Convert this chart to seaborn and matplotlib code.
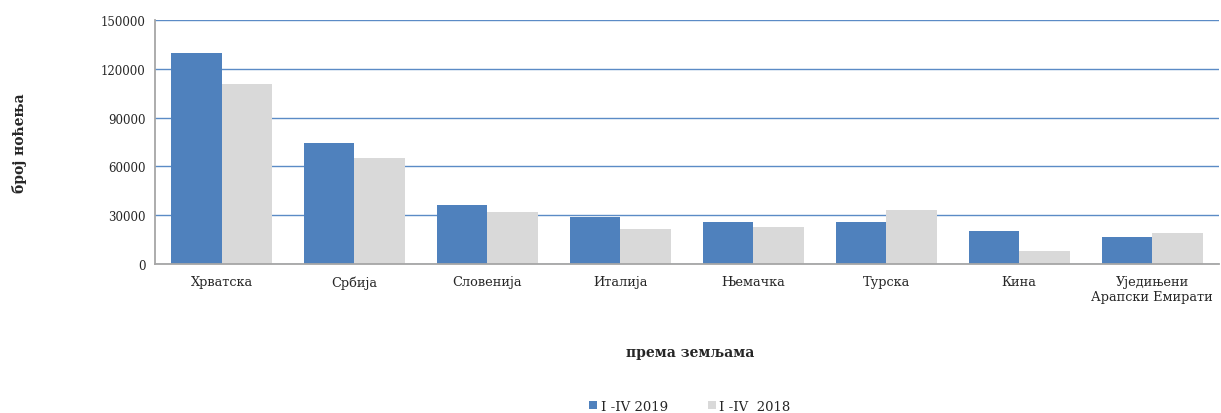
import matplotlib
matplotlib.use("Agg")
import matplotlib.pyplot as plt
import pandas as pd
import seaborn as sns

countries = ["Хрватска", "Србија", "Словенија", "Италија", "Њемачка",
             "Турска", "Кина", "Уједињени\nАрапски Емирати"]
nights_2019 = [130000, 74500, 36000, 29000, 26000, 26000, 20000, 16800]
nights_2018 = [110500, 65000, 32000, 21500, 22500, 33500, 7700, 18800]
periods = ["I -IV 2019", "I -IV  2018"]

df = pd.DataFrame({
    "country": countries * 2,
    "nights": nights_2019 + nights_2018,
    "period": [periods[0]] * len(countries) + [periods[1]] * len(countries),
})

sns.set_style("white")
plt.rcParams["font.family"] = ["DejaVu Serif"]

fig = plt.figure(figsize=(12.21, 4.14), dpi=100)
ax = fig.add_axes([0.127, 0.36, 0.871, 0.589])

sns.barplot(data=df, x="country", y="nights", hue="period", order=countries,
            hue_order=periods, palette=["#4f81bd", "#d9d9d9"], width=0.76,
            saturation=1, linewidth=0, ax=ax, legend=True)

ax.set_ylim(0, 150000)
ax.set_yticks(range(0, 150001, 30000))
ax.yaxis.grid(True, color="#5b8bc6", linewidth=1)
ax.set_axisbelow(True)
for side in ["top", "right"]:
    ax.spines[side].set_visible(False)
ax.spines["left"].set_color("#a6a6a6")
ax.spines["left"].set_linewidth(1.3)
ax.spines["bottom"].set_color("#a6a6a6")
ax.spines["bottom"].set_linewidth(1.3)
ax.tick_params(axis="y", length=4, color="#a6a6a6", labelsize=8.5, pad=3)
ax.tick_params(axis="x", length=0, labelsize=9.3, pad=8)

ax.set_xlabel("")
ax.set_ylabel("")
fig.text(0.565, 0.147, "према земљама", fontsize=10, fontweight="bold",
         ha="center", va="center")
fig.text(0.016, 0.655, "број ноћења", fontsize=10, fontweight="bold",
         ha="center", va="center", rotation=90)

ax.legend(loc="center", bbox_to_anchor=(0.565, 0.016), bbox_transform=fig.transFigure,
          ncol=2, frameon=False, fontsize=9.5, handlelength=0.6, handleheight=0.6,
          columnspacing=3.0, handletextpad=0.3)

fig.savefig("out.png", dpi=100)
